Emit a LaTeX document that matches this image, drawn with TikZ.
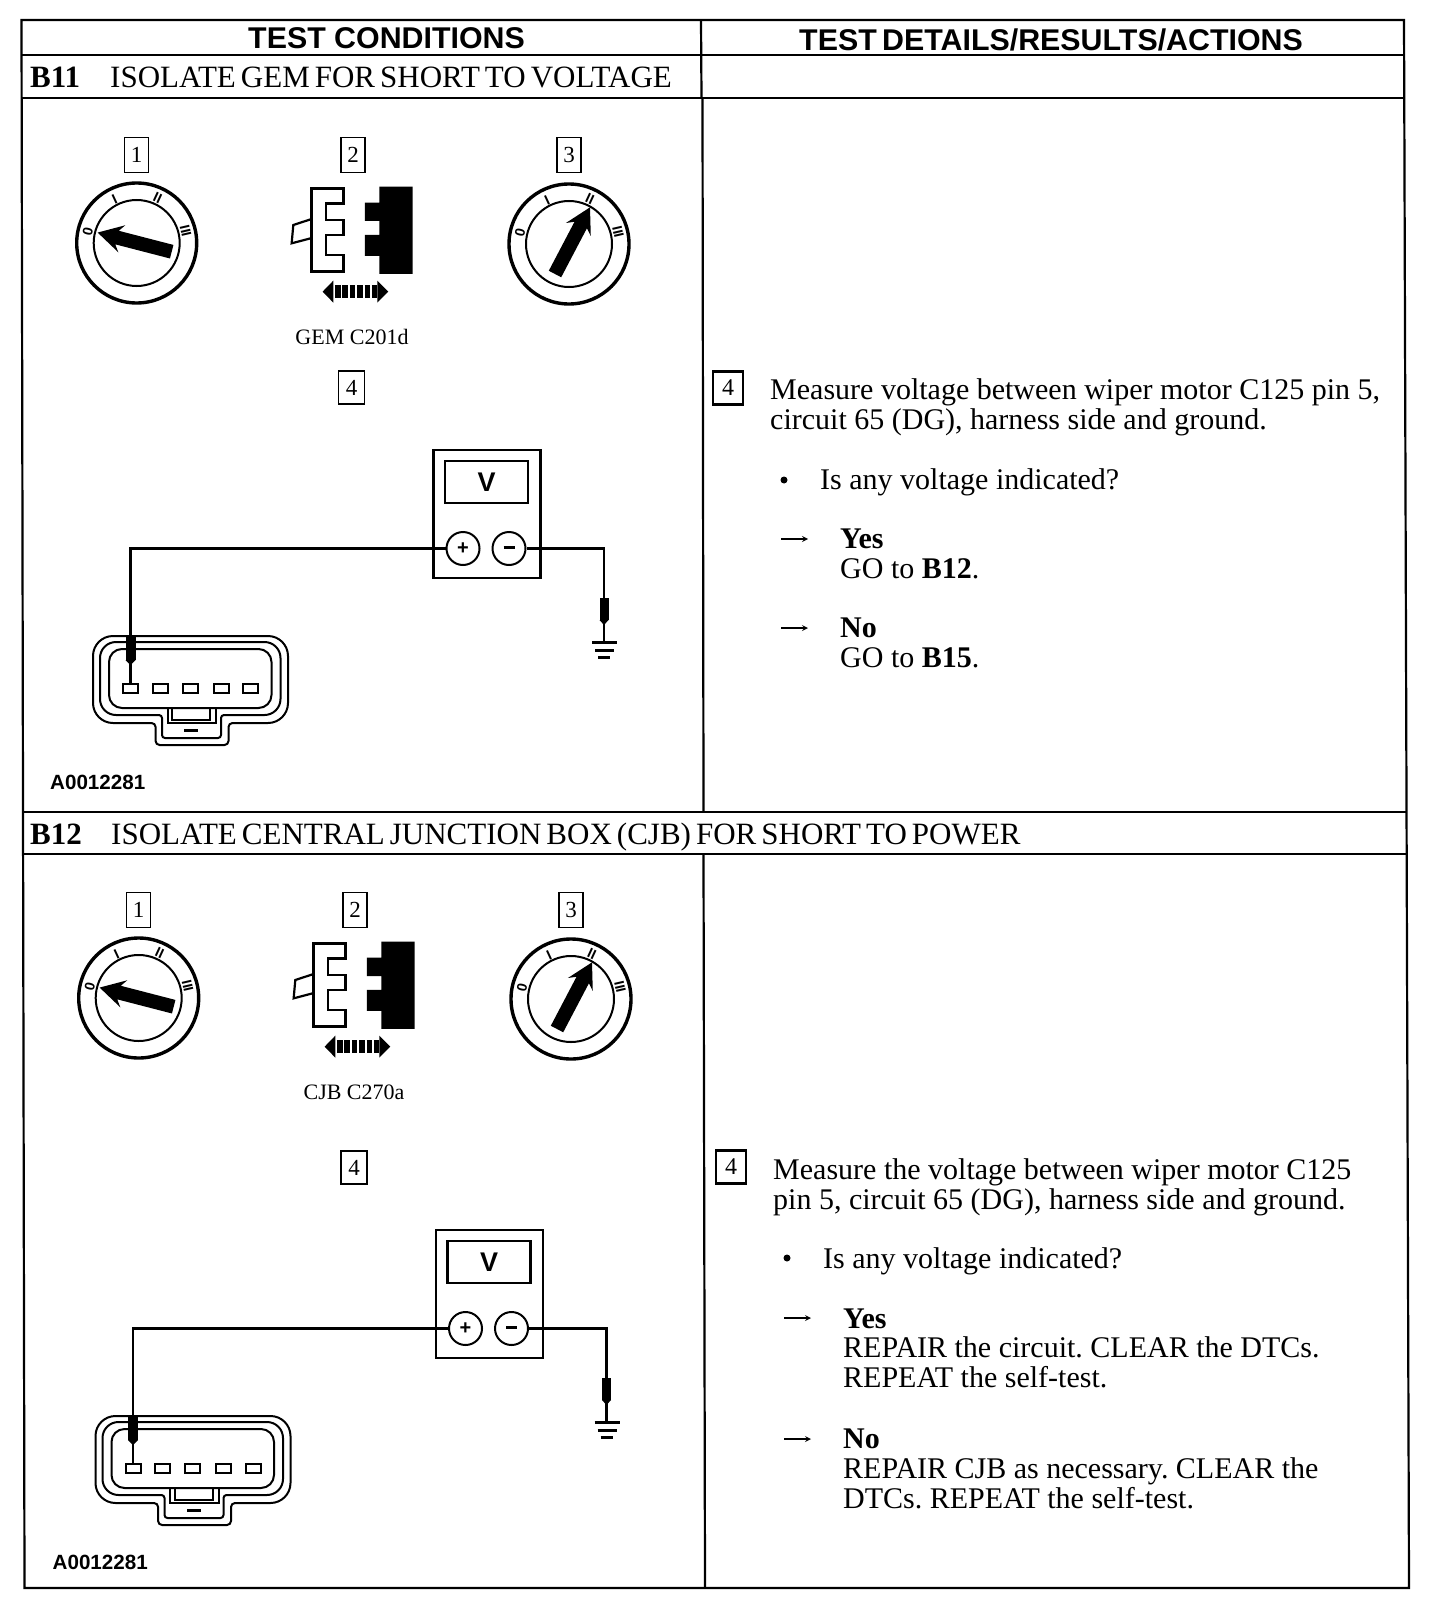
\documentclass[tikz,border=0pt]{standalone}
\usepackage{fontspec}
\setmainfont{Liberation Serif}
\newfontfamily\hdfont{Liberation Sans}[FakeStretch=1.012]
\newfontfamily\plainsans{Liberation Sans}
\newfontfamily\titlefont{Liberation Serif}[WordSpace=0.65]
\usetikzlibrary{calc}
\frenchspacing
\tikzset{
 rule/.style={line width=2.2pt,black},
 heading/.style={font=\hdfont\bfseries\fontsize{30}{30}\selectfont,anchor=base west,inner sep=0pt},
 rowtitle/.style={font=\titlefont\fontsize{31}{31}\selectfont,anchor=base west,inner sep=0pt},
 rowcode/.style={font=\bfseries\fontsize{31}{31}\selectfont,anchor=base west,inner sep=0pt},
 body/.style={font=\fontsize{30}{30}\selectfont,anchor=base west,inner sep=0pt},
 caption/.style={font=\fontsize{22}{22}\selectfont,inner sep=0pt},
 code/.style={font=\plainsans\bfseries\fontsize{20.6}{20.6}\selectfont,anchor=west,inner sep=0pt},
 stepbox/.style={draw,line width=1.5pt,minimum width=24pt,minimum height=35pt,inner sep=0pt,font=\fontsize{23}{23}\selectfont},
 stepboxb/.style={draw,line width=2.4pt,minimum width=30pt,minimum height=33pt,inner sep=0pt,font=\fontsize{24}{24}\selectfont},
 wire/.style={line width=2.6pt,black},
 thin part/.style={line width=2pt,black},
 dialmark/.style={font=\plainsans\bfseries\fontsize{14}{14}\selectfont,inner sep=0pt},
 term/.style={circle,draw,line width=2pt,minimum size=33pt,inner sep=0pt,font=\plainsans\bfseries\fontsize{20}{20}\selectfont},
 bullet/.style={circle,fill,inner sep=0pt,minimum size=7pt},
 pin/.style={draw,line width=2pt,minimum width=15pt,minimum height=9pt,inner sep=0pt},
}
\newcommand{\keydial}[6]{% cx cy tailx taily angle length
 \draw[line width=3.4pt] (#1,#2) circle (60);
 \draw[line width=2pt] (#1,#2) circle (43);
 \node[dialmark,rotate=77] at ($(#1,#2)+(-49,-11)$) {0};
 \node[dialmark,rotate=25] at ($(#1,#2)+(-22,-44)$) {I};
 \node[dialmark,rotate=-25] at ($(#1,#2)+(21,-45)$) {II};
 \node[dialmark,rotate=-77] at ($(#1,#2)+(49,-12)$) {III};
 \begin{scope}[shift={(#3,#4)},rotate=#5]
  \fill (0,-7) -- (#6-20,-7) -- (#6-25,-14) -- (#6,0) -- (#6-25,14) -- (#6-20,7) -- (0,7) -- cycle;
 \end{scope}
}
\newcommand{\upperpanel}[4]{% suffix, dx, dy, caption
 \begin{scope}[shift={(#2,#3)}]
  \node[stepbox] (one#1) at (136.5,155) {1};
  \node[stepbox] (two#1) at (353,155) {2};
  \node[stepbox] (three#1) at (569,155) {3};
  \keydial{136.7}{243}{171.7}{251.7}{165.5}{76.5}
  \keydial{569}{244}{555}{274}{62.3}{75.3}
  \begin{scope}[shift={(40,120)},x=0.3333pt,y=-0.3333pt]
   \draw[line width=2.6pt,line join=miter] (815,205) -- (910,205) -- (910,250) -- (858,250) -- (858,300) -- (910,300) -- (910,345) -- (858,345) -- (858,405) -- (910,405) -- (910,455) -- (815,455) -- cycle;
   \draw[line width=2.2pt] (812,298) -- (760,315) -- (755,370) -- (812,355);
   \fill (1018,200) -- (1118,200) -- (1118,462) -- (1018,462) -- (1018,408) -- (975,408) -- (975,345) -- (1018,345) -- (1018,303) -- (975,303) -- (975,248) -- (1018,248) -- cycle;
   \fill (848,515) -- (880,482) -- (880,548) -- cycle;
   \fill (1045,515) -- (1012,482) -- (1012,548) -- cycle;
   \draw[line width=13pt,dash pattern=on 5.6pt off 1.8pt] (885,515) -- (1010,515);
  \end{scope}
  \node[caption] (cap#1) at (352,337) {#4};
 \end{scope}
}
\newcommand{\lowerpanel}[3]{% suffix, dx, dy
 \begin{scope}[shift={(#2,#3)}]
  \node[stepbox,minimum height=33pt,minimum width=26pt] (four#1) at (353.5,387.5) {4};
  \node[draw,line width=2.8pt,minimum width=107pt,minimum height=128pt,inner sep=0pt] (meter#1) at (489,514) {};
  \node[draw,line width=2.6pt,minimum width=83pt,minimum height=42pt,inner sep=0pt,font=\plainsans\bfseries\fontsize{27}{27}\selectfont] (disp#1) at (488.5,482) {V};
  \node[term] (plus#1) at (465,548.5) {+};
  \node[term] (minus#1) at (511,548.5) {\raisebox{1.5pt}{\rule{11pt}{3pt}}};
  \coordinate (gnd#1) at (606,642);
  % connector housing
  \draw[thin part,rounded corners=5pt] (95,680) [rounded corners=20pt] -- (95,636) -- (290,636) -- (290,723) [rounded corners=4pt] -- (230.5,723) -- (230.5,745) -- (157.6,745) -- (157.6,723) [rounded corners=20pt] -- (95,723) -- cycle;
  \draw[thin part,rounded corners=16pt] (102,680) -- (102,642) -- (282.5,642) -- (282.5,715) [rounded corners=3pt] -- (223,715) -- (223,738) -- (164,738) -- (164,715) [rounded corners=16pt] -- (102,715) -- cycle;
  \draw[thin part,rounded corners=13pt] (111,680) -- (111,649) -- (273.5,649) -- (273.5,708) -- (111,708) -- cycle;
  \draw[thin part] (169.5,708) -- (169.5,723) -- (218,723) -- (218,708);
  \draw[thin part] (174,708) -- (174,720) -- (212,720) -- (212,708);
  \fill (186,729) rectangle (200,732);
  \node[pin] (pina#1) at (132.5,688.5) {};
  \node[pin] (pinb#1) at (162,688.5) {};
  \node[pin] (pinc#1) at (192,688.5) {};
  \node[pin] (pind#1) at (223,688.5) {};
  \node[pin] (pine#1) at (252.5,688.5) {};
  \draw[wire] (pina#1.north) |- (plus#1.west);
  \draw[wire] (minus#1.east) -| (gnd#1);
  \draw[line width=10pt] (pina#1.north |- 0,636) -- (pina#1.north |- 0,660);
  \fill (pina#1.north |- 0,660) ++(-5,0) -- ++(10,0) -- ++(-5,5) -- cycle;
  \draw[line width=9pt] (gnd#1 |- 0,598) -- (gnd#1 |- 0,620);
  \fill (gnd#1 |- 0,620) ++(-4.5,0) -- ++(9,0) -- ++(-4.5,5) -- cycle;
  \draw[line width=3pt] ($(gnd#1)+(-12,0)$) -- ($(gnd#1)+(13,0)$);
  \draw[line width=3pt] ($(gnd#1)+(-9,8)$) -- ($(gnd#1)+(10,8)$);
  \draw[line width=3pt] ($(gnd#1)+(-6,15)$) -- ($(gnd#1)+(6,15)$);
  \node[code] (acode#1) at (52,782) {A0012281};
 \end{scope}
}
\begin{document}
\begin{tikzpicture}[x=1pt,y=-1pt]
\useasboundingbox[fill=white] (0,0) rectangle (1440,1624);
% table
\draw[rule] (21.5,20) -- (1404,20) -- (1409,1588) -- (24.5,1588) -- cycle;
\draw[rule] (701,20) -- (701.5,98);
\draw[rule] (702.5,98) -- (703.5,812);
\draw[rule] (703.5,854) -- (705,1588);
\draw[rule] (21.5,55) -- (1404,55);
\draw[rule] (21.5,98) -- (1404,98);
\draw[rule] (23,812) -- (1407,812);
\draw[rule] (23,854) -- (1407,854);
% headers
\node[heading] (h1) at (248,49) {TEST CONDITIONS};
\node[heading] (h2) at (799,51) {TEST\hspace{-3pt} DETAILS/RESULTS/ACTIONS};
\node[rowcode] (b11) at (30,88) {B11};
\node[rowtitle] (t11) at (110,88) {ISOLATE GEM FOR SHORT TO VOLTAGE};
\node[rowcode] (b12) at (30,844) {B12};
\node[rowtitle] (t12) at (111,844) {ISOLATE CENTRAL JUNCTION BOX (CJB) FOR SHORT TO POWER};
% panels
\upperpanel{A}{0}{0}{GEM C201d}
\lowerpanel{A}{-2}{0}
\upperpanel{B}{2}{755}{CJB C270a}
\lowerpanel{B}{0.5}{780}
% B11 right
\node[stepboxb] (r4a) at (728,388) {4};
\node[body] (la1) at (770,399) {Measure voltage between wiper motor C125 pin 5,};
\node[body] (la2) at (770,429) {circuit 65 (DG), harness side and ground.};
\node[bullet] (ba) at (784,480) {};
\node[body] (la3) at (820,489) {Is any voltage indicated?};
\node[body] (ya) at (840,548) {\textbf{Yes}};
\node[body] (ga) at (840,578) {GO to \textbf{B12}.};
\node[body] (na) at (840,637) {\textbf{No}};
\node[body] (gb) at (840,667) {GO to \textbf{B15}.};
\coordinate (aa1) at (808,539); \coordinate (aa2) at (808,628);
\draw[line width=1.6pt,-stealth] ($(aa1)+(-27,0)$) -- (aa1);
\draw[line width=1.6pt,-stealth] ($(aa2)+(-27,0)$) -- (aa2);
% B12 right
\node[stepboxb] (r4b) at (731,1167) {4};
\node[body] (lb1) at (773,1179) {Measure the voltage between wiper motor C125};
\node[body] (lb2) at (773,1209) {pin 5, circuit 65 (DG), harness side and ground.};
\node[bullet] (bb) at (787,1258) {};
\node[body] (lb3) at (823,1268) {Is any voltage indicated?};
\node[body] (yb) at (843,1328) {\textbf{Yes}};
\node[body] (rb1) at (843,1357) {REPAIR the circuit. CLEAR the DTCs.};
\node[body] (rb2) at (843,1387) {REPEAT the self-test.};
\node[body] (nb) at (843,1448) {\textbf{No}};
\node[body] (rb3) at (843,1478) {REPAIR CJB as necessary. CLEAR the};
\node[body] (rb4) at (843,1508) {DTCs. REPEAT the self-test.};
\coordinate (ab1) at (811,1318); \coordinate (ab2) at (811,1439);
\draw[line width=1.6pt,-stealth] ($(ab1)+(-27,0)$) -- (ab1);
\draw[line width=1.6pt,-stealth] ($(ab2)+(-27,0)$) -- (ab2);
\end{tikzpicture}
\end{document}
